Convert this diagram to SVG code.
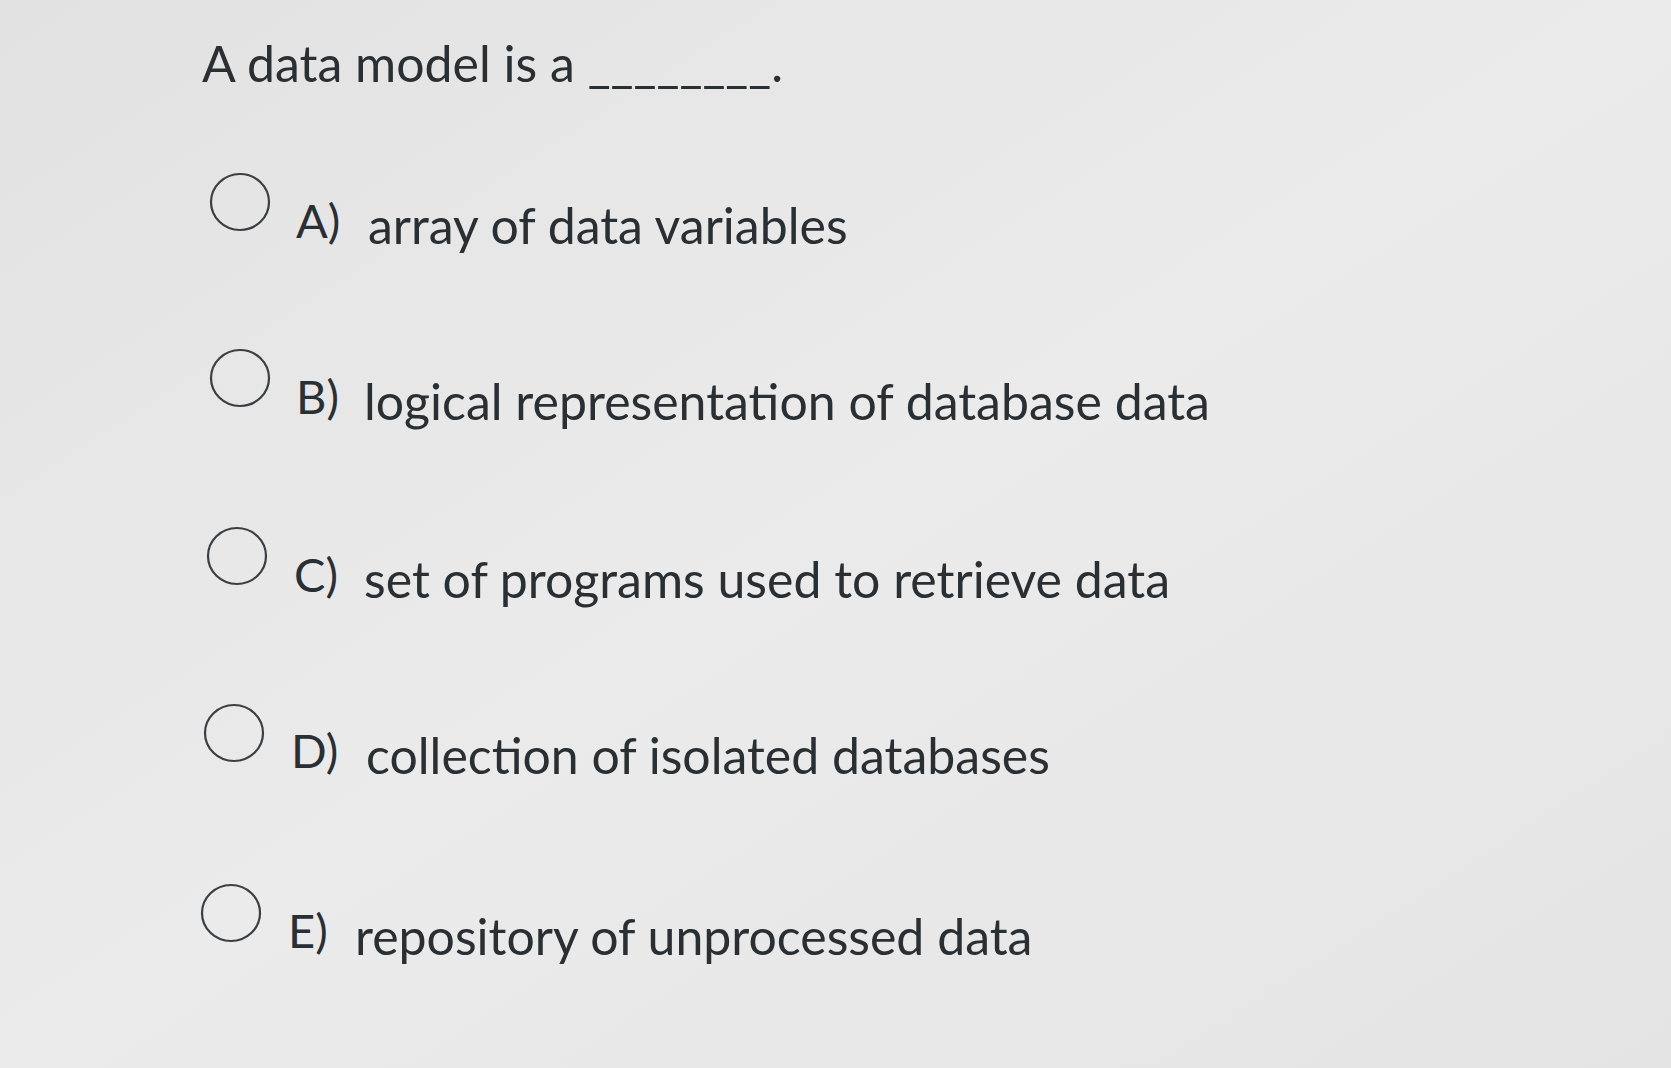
<svg xmlns="http://www.w3.org/2000/svg" width="1671" height="1068" viewBox="0 0 1671 1068">
<defs>
<linearGradient id="bg" x1="0" y1="0" x2="1" y2="1">
<stop offset="0" stop-color="#e2e2e2"/><stop offset="0.5" stop-color="#ebebeb"/><stop offset="1" stop-color="#e4e4e4"/>
</linearGradient>
<style>
text{font-family:Lato,"Liberation Sans",sans-serif;font-size:50px;fill:#2a2f33}
.l{font-size:47px}
.r{fill:none;stroke:#3a3f44;stroke-width:2.2}
</style>
</defs>
<rect width="1671" height="1068" fill="url(#bg)"/>
<g id="question"><text x="202" y="82">A data model is a ________.</text></g>
<g id="optA"><ellipse class="r" cx="240" cy="202" rx="29" ry="28"/><text class="l" x="296" y="238">A)</text><text x="368" y="244">array of data variables</text></g>
<g id="optB"><ellipse class="r" cx="240" cy="378" rx="29" ry="28"/><text class="l" x="296" y="414">B)</text><text x="364" y="420">logical representation of database data</text></g>
<g id="optC"><ellipse class="r" cx="237" cy="556" rx="29" ry="28"/><text class="l" x="294" y="592">C)</text><text x="364" y="598">set of programs used to retrieve data</text></g>
<g id="optD"><ellipse class="r" cx="234" cy="733" rx="29" ry="28"/><text class="l" x="291" y="768">D)</text><text x="366" y="774">collection of isolated databases</text></g>
<g id="optE"><ellipse class="r" cx="231" cy="913" rx="29" ry="28"/><text class="l" x="288" y="948">E)</text><text x="355" y="955">repository of unprocessed data</text></g>
<g id="connectors"/>
</svg>
